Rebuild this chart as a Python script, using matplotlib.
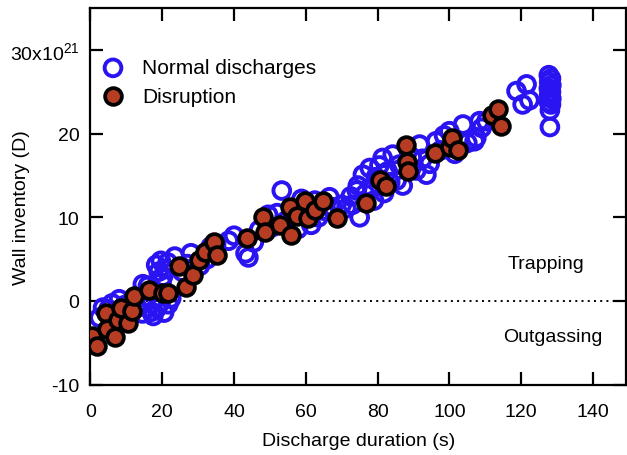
import numpy as np
import matplotlib
matplotlib.use("Agg")
import matplotlib.pyplot as plt

plt.rcParams['font.family'] = ['Liberation Sans', 'DejaVu Sans']
plt.rcParams['mathtext.default'] = 'regular'

# disruption shots (duration s, wall inventory 1e21 D)
disr_x = [0.3, 1.8, 4.3, 4.5, 6.8, 7.8, 8.5, 10.5, 11.5, 12.2, 16.3, 20.2, 21.5,
          24.6, 26.5, 28.6, 30.2, 31.9, 34.3, 35.2, 43.5, 48.1, 48.6, 52.9, 55.6,
          56.0, 57.4, 59.7, 60.6, 62.5, 64.8, 68.6, 76.9, 80.6, 82.4, 88.0, 88.3,
          88.4, 95.9, 100.2, 100.6, 102.4, 111.8, 113.5, 114.3]
disr_y = [-4.2, -5.4, -1.5, -3.4, -4.3, -2.3, -0.8, -2.7, -1.2, 0.6, 1.3, 1.0, 0.9,
          4.2, 1.7, 3.1, 4.9, 5.8, 7.1, 5.5, 7.5, 10.0, 8.2, 9.1, 11.2,
          7.9, 10.1, 11.9, 9.9, 10.9, 11.9, 9.9, 11.7, 14.5, 13.7, 18.7, 16.6,
          15.5, 17.7, 18.4, 19.5, 18.1, 22.2, 22.9, 20.9]

# normal discharges
norm_x = [2.5, 3.5, 5.0, 6.0, 8.0, 9.5, 11.0, 13.0, 14.5, 15.6, 17.0, 17.5, 18.5,
          19.5, 20.5, 21.7, 22.5, 14.6, 16.0, 18.3, 19.0, 19.6, 20.2, 20.7, 21.5,
          19.8, 23.5, 25.5, 27.0, 28.0, 30.5, 32.5, 33.5, 35.0,
          38.5, 40.0, 43.2, 44.0, 45.5, 47.0, 49.5, 50.5, 52.0, 53.3, 54.5, 56.5,
          57.8, 58.8, 60.0, 61.5, 62.5, 63.5, 65.0, 66.6, 67.5, 70.0, 71.3, 72.5,
          73.0, 74.2, 74.5, 75.0, 75.9, 76.5, 77.8, 78.5, 79.0, 79.5, 80.5, 81.4,
          81.8, 82.8, 83.5, 84.2, 85.3, 86.0, 87.0, 89.5, 90.8, 91.7, 92.5, 93.6,
          94.5, 96.3, 97.5, 98.5, 100.0, 101.5, 103.8, 105.0, 107.0, 107.5, 108.4,
          109.0, 110.3, 118.7, 120.4, 121.5, 122.3,
          127.7, 128.3, 127.8, 128.4, 127.7, 128.3, 127.8, 128.4, 127.7, 128.3,
          128.0, 128.0]
norm_y = [-2.0, -0.8, -1.0, -0.3, 0.2, -0.5, -1.5, -0.8, -1.5, -0.8, -1.3, -1.8, -0.9,
          -0.2, -1.4, -0.4, 0.3, 2.0, 1.8, 4.3, 3.5, 4.8, 2.9, 3.8, 4.6,
          2.2, 5.3, 3.5, 4.4, 5.7, 4.2, 5.0, 6.5, 6.8,
          7.2, 7.8, 5.7, 5.2, 7.0, 8.5, 10.3, 8.8, 10.5, 13.2, 9.6, 10.8,
          8.6, 12.2, 10.5, 9.1, 12.0, 10.0, 10.8, 12.4, 11.2, 11.5, 11.1, 12.5,
          11.5, 13.2, 13.8, 10.0, 15.1, 12.8, 15.9, 13.5, 12.0, 14.8, 16.2, 17.1,
          12.9, 15.5, 14.2, 17.5, 14.4, 16.3, 13.8, 17.2, 15.6, 18.7, 17.0, 15.1,
          16.4, 19.1, 18.0, 19.8, 20.3, 17.6, 21.1, 18.9, 19.1, 19.5, 21.5,
          20.7, 21.5, 25.1, 23.5, 25.9, 24.0,
          27.0, 26.6, 26.2, 25.8, 25.4, 25.0, 24.6, 24.2, 23.8, 23.5,
          22.8, 20.8]

xticks = [0, 20, 40, 60, 80, 100, 120, 140]
yticks = [-10, 0, 10, 20, 30]
ytick_labels = ['-10', '0', '10', '20', r'30x10$^{21}$']

blue = '#2a14f2'
red = '#b63d24'

fig = plt.figure(figsize=(6.27, 4.56), dpi=100)
ax = fig.add_axes([0.1443, 0.1546, 0.8541, 0.8250])

ax.plot([0, 150], [0, 0], linestyle=(0, (1, 2.2)), color='black', lw=1.4, zorder=1)

ax.scatter(norm_x, norm_y, s=145, facecolors='none', edgecolors=blue,
           linewidths=2.8, zorder=2, label='Normal discharges')
ax.scatter(disr_x, disr_y, s=145, facecolors=red, edgecolors='black',
           linewidths=2.7, zorder=3, label='Disruption')

ax.set_xlim(0, 149.2)
ax.set_ylim(-10, 35)
ax.set_xticks(xticks)
ax.set_yticks(yticks)
ax.set_yticklabels(ytick_labels)

for s in ax.spines.values():
    s.set_linewidth(1.6)
ax.tick_params(direction='in', length=9.5, width=1.6, top=True, right=True,
               labelsize=14)
ax.tick_params(axis='x', pad=13)
ax.tick_params(axis='y', pad=8)

ax.set_xlabel('Discharge duration (s)', fontsize=14, labelpad=9)
ax.set_ylabel('Wall inventory (D)', fontsize=14)
ax.yaxis.set_label_coords(-0.113, 0.473)

ax.text(127, 4.5, 'Trapping', fontsize=14, ha='center', va='center')
ax.text(128.7, -4.3, 'Outgassing', fontsize=14, ha='center', va='center')

ax.legend(loc='upper left', bbox_to_anchor=(0.0226, 0.867), frameon=False,
          fontsize=15, handlelength=1.0, handletextpad=0.9, borderpad=0,
          borderaxespad=0, labelspacing=0.45, scatterpoints=1)

fig.savefig('out.png', dpi=100)
